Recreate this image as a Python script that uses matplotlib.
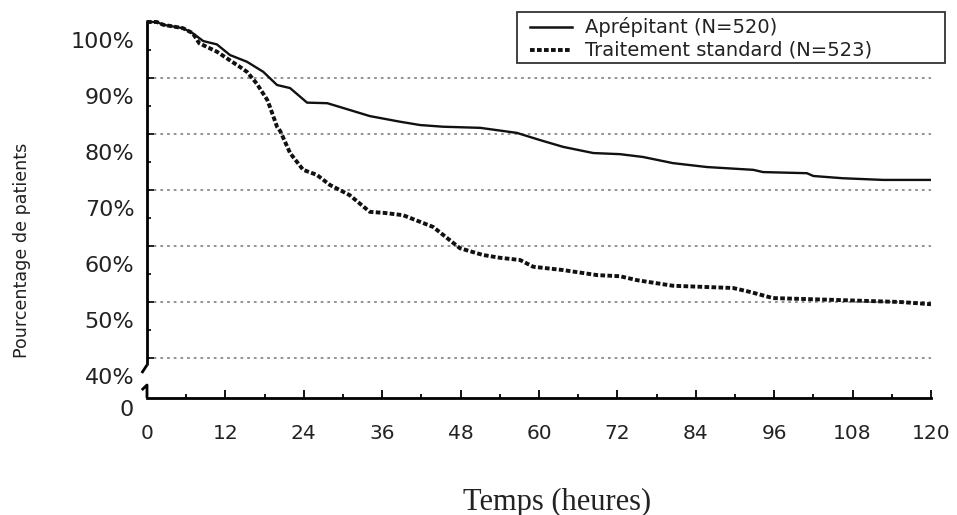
import matplotlib.pyplot as plt
from matplotlib.lines import Line2D
from matplotlib.patches import Rectangle
from matplotlib.transforms import ScaledTranslation

plt.rcParams["font.family"] = ["DejaVu Sans"]

# Kaplan-Meier style curves (hours, % of patients)
aprep_h = [0, 1.5, 2.5, 5.5, 7, 8.6, 10.7, 12.7, 15.3, 17.8, 19.9, 21.9, 24.5,
           27.6, 31, 34.1, 38.7, 41.8, 45.3, 51, 56.6, 60.2, 63.7, 68.3, 72.4,
           75.9, 80.5, 85.7, 92.8, 94.3, 101, 102, 106.5, 112.7, 120]
aprep_pct = [100, 100, 99.5, 98.9, 98, 96.6, 96.0, 94.1, 92.9, 91.1, 88.75, 88.2,
             85.6, 85.5, 84.3, 83.2, 82.2, 81.6, 81.3, 81.1, 80.2, 78.9, 77.7,
             76.6, 76.4, 75.9, 74.8, 74.1, 73.6, 73.2, 73.0, 72.5, 72.1, 71.8, 71.8]

std_h = [0, 1.5, 2.5, 5.5, 7, 8, 10.7, 12.5, 14.2, 15.3, 16.8, 18.4, 18.8, 19.9,
         20.4, 21.9, 23.9, 26, 28, 31, 34.1, 36.4, 39.2, 43.8, 47.9, 51.4, 54,
         57.1, 59.1, 63.7, 68.9, 72.4, 75, 80.5, 89.7, 92.3, 95.8, 104.5, 115.3, 120]
std_pct = [100, 100, 99.5, 98.9, 98, 96.2, 94.7, 93.3, 92.0, 91.1, 89, 86.1, 84.9,
           81.3, 80.5, 76.6, 73.6, 72.7, 70.9, 69.1, 66.1, 65.9, 65.5, 63.4, 59.6,
           58.4, 57.9, 57.5, 56.3, 55.7, 54.8, 54.6, 53.9, 52.9, 52.5, 51.8, 50.7,
           50.4, 50.0, 49.6]

labels = ["Aprépitant (N=520)", "Traitement standard (N=523)"]
x_ticks = list(range(0, 121, 12))
y_ticks = [100, 90, 80, 70, 60, 50, 40]
y_ticklabels = ["100%", "90%", "80%", "70%", "60%", "50%", "40%"]
grid_y = [90, 80, 70, 60, 50, 40]

W, H = 957, 515
fig = plt.figure(figsize=(W / 100, H / 100), dpi=100)
# axes spans pixel x 147..931, y 20..398
ax = fig.add_axes([147 / W, 1 - 398 / H, (931 - 147) / W, (398 - 20) / H])
y_bot = 100 - (398 - 22) / 5.6
y_top = 100 + 2 / 5.6
ax.set_xlim(0, 120)
ax.set_ylim(y_bot, y_top)

for g in grid_y:
    ax.axhline(g, color="#8a8a8a", lw=1.3, ls=(0, (1.5, 2.2)), zorder=1)

dash = (0, (1.2, 0.6))
ax.plot(aprep_h, aprep_pct, color="#111111", lw=1.7, zorder=3)
ax.plot(std_h, std_pct, color="#111111", lw=2.8, ls=dash, zorder=3)

# spines / axis break
for s in ["top", "right", "left"]:
    ax.spines[s].set_visible(False)
ax.spines["bottom"].set_linewidth(2)
y_hook0 = 100 - (365 - 22) / 5.6
y_hook1 = 100 - (373 - 22) / 5.6
y_brk0 = 100 - (385 - 22) / 5.6
y_brk1 = 100 - (390 - 22) / 5.6
kw = dict(color="black", lw=2, clip_on=False, solid_capstyle="butt")
ax.plot([0, 0], [y_top, y_hook0], **kw)
ax.plot([0, -0.8], [y_hook0, y_hook1], **kw)
ax.plot([-0.8, 0, 0], [y_brk1, y_brk0, y_bot], **kw)

ax.set_xticks(x_ticks)
ax.set_xticks([x + 6 for x in x_ticks[:-1]], minor=True)
ax.tick_params(axis="x", which="major", direction="in", length=6, width=1.3,
               labelsize=14.5, pad=19)
ax.tick_params(axis="x", which="minor", direction="in", length=3, width=1.3)
ax.set_yticks(y_ticks)
ax.set_yticks([95, 85, 75, 65, 55, 45], minor=True)
ax.set_yticklabels(y_ticklabels)
ax.tick_params(axis="y", which="major", direction="in", length=5, width=1.2,
               labelsize=16, pad=9)
ax.tick_params(axis="y", which="minor", direction="in", length=3, width=1.2)
for lab in ax.get_yticklabels():
    lab.set_transform(lab.get_transform() + ScaledTranslation(0, -0.18, fig.dpi_scale_trans))
for lab in ax.get_xticklabels() + ax.get_yticklabels():
    lab.set_color("#222222")

ax.annotate("0", xy=(0, y_bot), xytext=(-13, -12), textcoords="offset pixels",
            ha="right", va="center", fontsize=16, color="#222222")

# legend box drawn by hand to match its loose right padding
fig.patches.append(Rectangle((517 / W, 1 - 63 / H), (945 - 517) / W, 51 / H,
                             transform=fig.transFigure, fill=False,
                             edgecolor="#333333", lw=1.3))
styles = [dict(lw=1.8, ls="-"), dict(lw=2.8, ls=dash)]
for i, (lab, st) in enumerate(zip(labels, styles)):
    yy = 1 - (27 + 23 * i) / H
    fig.add_artist(Line2D([530 / W, 572 / W], [yy, yy], color="#111111",
                          transform=fig.transFigure, **st))
    fig.text(585 / W, yy, lab, fontsize=14, va="center", ha="left", color="#222222")

fig.text(557 / W, 1 - 502 / H, "Temps (heures)", family="Liberation Serif",
         fontsize=22, ha="center", va="center", color="#222222")
fig.text(22 / W, 1 - 250 / H, "Pourcentage de patients", rotation=90,
         fontsize=12.6, ha="center", va="center", color="#222222")

fig.savefig("out.png", dpi=100)
